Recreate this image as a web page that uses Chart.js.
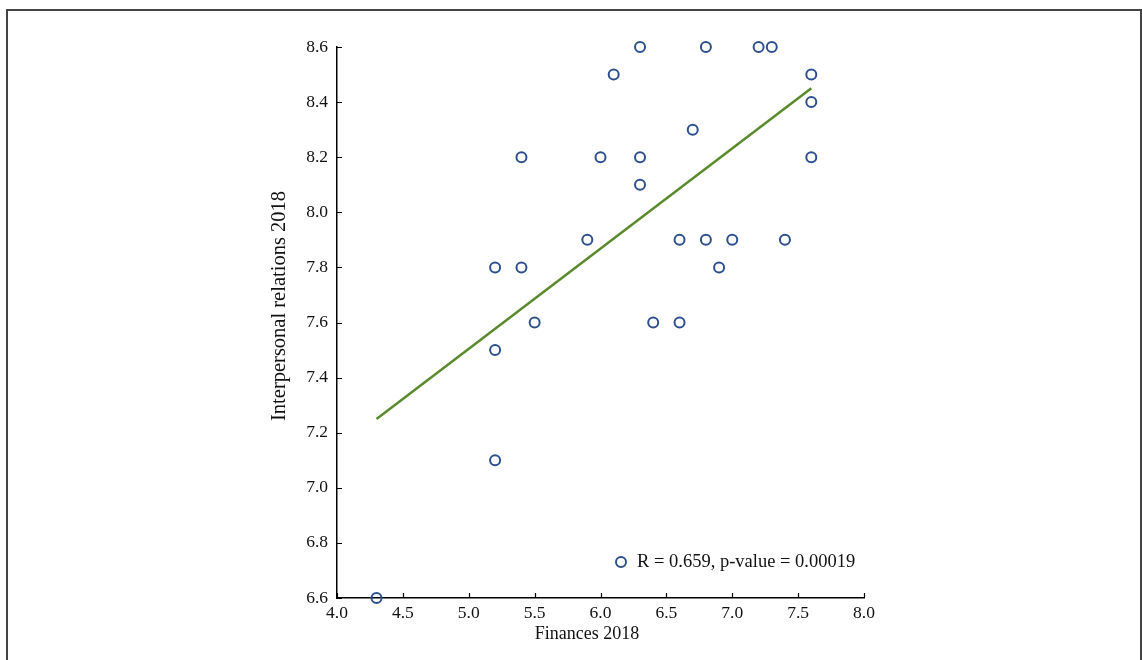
<!DOCTYPE html>
<html lang="en">
<head>
    <meta charset="UTF-8">
    <title>Finances vs Interpersonal relations 2018</title>
    <script src="https://cdn.jsdelivr.net/npm/chart.js"></script>
<style>
html, body {
    margin: 0;
    padding: 0;
    background: #fff;
}
#wrap {
    position: relative;
    width: 1142px;
    height: 660px;
}
#ScatterChart {
    display: block;
}
/* frame round the figure, open at the bottom */
#frame {
    position: absolute;
    left: 6px;
    top: 9px;
    width: 1132px;
    height: 660px;
    border: 2px solid #444;
    border-bottom: none;
    pointer-events: none;
}
</style>
</head>
<body>
<div id="wrap">
    <canvas id="ScatterChart" width="1142" height="660"></canvas>
    <div id="frame"></div>
</div>
<script>
// Finances 2018 (x) and Interpersonal relations 2018 (y), one pair per point
const financeVals = [4.3, 5.2, 5.2, 5.2, 5.4, 5.4, 5.5, 5.9, 6.0, 6.1, 6.3, 6.3, 6.3, 6.4,
                     6.6, 6.6, 6.7, 6.8, 6.8, 6.9, 7.0, 7.2, 7.3, 7.4, 7.6, 7.6, 7.6];
const relationVals = [6.6, 7.1, 7.5, 7.8, 8.2, 7.8, 7.6, 7.9, 8.2, 8.5, 8.6, 8.2, 8.1, 7.6,
                      7.9, 7.6, 8.3, 8.6, 7.9, 7.8, 7.9, 8.6, 8.6, 7.9, 8.5, 8.4, 8.2];
// fitted line end points
const fitX = [4.3, 7.6];
const fitY = [7.25, 8.45];
const legendText = "R = 0.659, p-value = 0.00019";
const xTitle = "Finances 2018";
const yTitle = "Interpersonal relations 2018";

const serif = "'Liberation Serif', 'DejaVu Serif', serif";
const markerColor = '#2d4f8e';
const lineColor = '#5a8a2b';

// ticks pointing into the plot, axis titles and the legend box
const decorations = {
    id: 'decorations',
    afterDraw(chart) {
        const {ctx, chartArea, scales: {x, y}} = chart;
        ctx.save();
        ctx.strokeStyle = '#000';
        ctx.lineWidth = 1.2;
        ctx.beginPath();
        x.ticks.forEach(t => {
            const px = Math.round(x.getPixelForValue(t.value)) + 0.5;
            ctx.moveTo(px, chartArea.bottom);
            ctx.lineTo(px, chartArea.bottom - 5);
        });
        y.ticks.forEach(t => {
            const py = Math.round(y.getPixelForValue(t.value)) + 0.5;
            ctx.moveTo(chartArea.left, py);
            ctx.lineTo(chartArea.left + 5, py);
        });
        ctx.stroke();

        // axis titles (a bit left / up of centre, like the original)
        ctx.fillStyle = '#111';
        ctx.textAlign = 'center';
        ctx.textBaseline = 'middle';
        ctx.font = '18px ' + serif;
        ctx.fillText(xTitle, chartArea.left + 250, chartArea.bottom + 36);
        ctx.save();
        ctx.translate(chartArea.left - 57, chartArea.top + 259);
        ctx.rotate(-Math.PI / 2);
        ctx.font = '20.5px ' + serif;
        ctx.fillText(yTitle, 0, 0);
        ctx.restore();

        // legend
        const lx = chartArea.left + 284;
        const ly = chartArea.bottom - 36;
        ctx.beginPath();
        ctx.arc(lx, ly, 5, 0, Math.PI * 2);
        ctx.strokeStyle = markerColor;
        ctx.lineWidth = 2;
        ctx.stroke();
        ctx.textAlign = 'left';
        ctx.font = '18.5px ' + serif;
        ctx.fillText(legendText, lx + 16, ly);
        ctx.restore();
    }
};

const points = financeVals.map((v, i) => ({x: v, y: relationVals[i]}));
const fitPoints = fitX.map((v, i) => ({x: v, y: fitY[i]}));

new Chart(document.getElementById('ScatterChart'), {
    type: 'scatter',
    data: {
        datasets: [{
            label: legendText,
            data: points,
            pointStyle: 'circle',
            pointRadius: 5,
            pointBorderWidth: 2,
            borderColor: markerColor,
            backgroundColor: 'rgba(255,255,255,0)',
            clip: false,
            order: 1
        }, {
            type: 'line',
            label: 'fit',
            data: fitPoints,
            borderColor: lineColor,
            borderWidth: 2.5,
            pointRadius: 0,
            fill: false,
            order: 2
        }]
    },
    options: {
        responsive: false,
        animation: false,
        layout: {
            padding: {left: 265, right: 278, top: 47, bottom: 12}
        },
        plugins: {
            legend: {display: false},
            tooltip: {enabled: false}
        },
        scales: {
            x: {
                type: 'linear',
                min: 4,
                max: 8,
                afterFit: s => { s.height = 50; },
                grid: {display: false, drawTicks: false},
                border: {display: true, color: '#000', width: 1.5},
                ticks: {
                    stepSize: 0.5,
                    padding: 5,
                    color: '#111',
                    font: {family: serif, size: 17.5},
                    callback: v => v.toFixed(1)
                }
            },
            y: {
                type: 'linear',
                min: 6.6,
                max: 8.6,
                afterFit: s => { s.width = 72; },
                grid: {display: false, drawTicks: false},
                border: {display: true, color: '#000', width: 1.5},
                ticks: {
                    stepSize: 0.2,
                    padding: 9,
                    color: '#111',
                    font: {family: serif, size: 17.5},
                    callback: v => v.toFixed(1)
                }
            }
        }
    },
    plugins: [decorations]
});
</script>
</body>
</html>
